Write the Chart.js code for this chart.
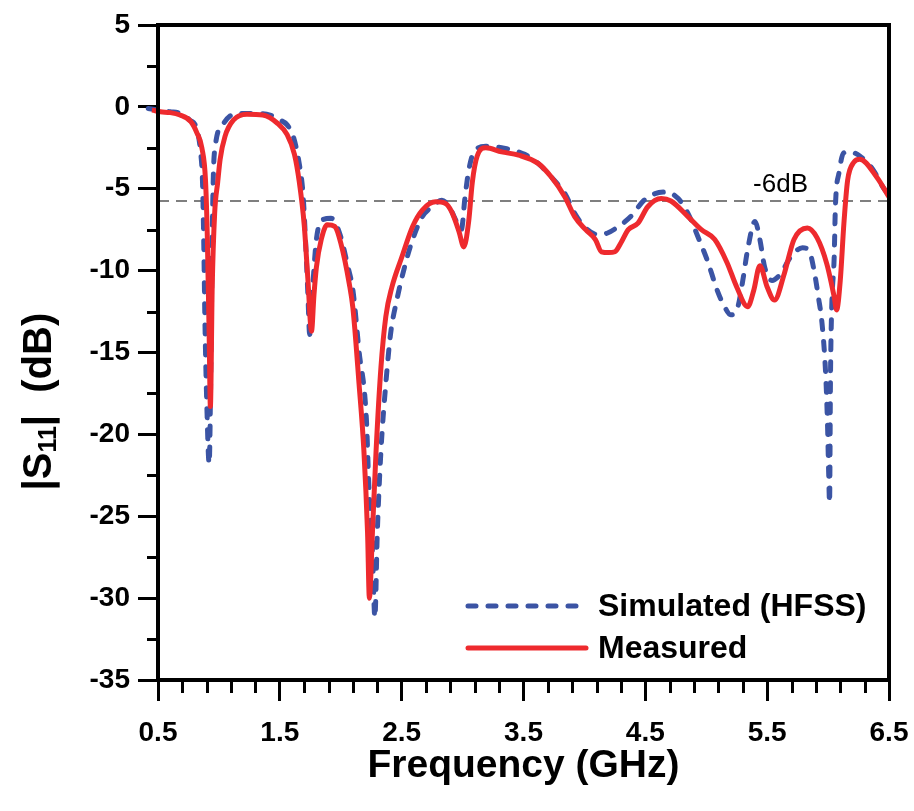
<!DOCTYPE html>
<html>
<head>
<meta charset="utf-8">
<script src="https://cdn.jsdelivr.net/npm/chart.js@4.4.0/dist/chart.umd.min.js"></script>
<style>
	html, body { margin: 0; padding: 0; background: #ffffff; }
	#wrap { width: 914px; height: 811px; }
</style>
</head>
<body>
<div id="wrap"><canvas id="canvass11" width="914" height="811"></canvas></div>
<script>

// simulated (HFSS), GHz / dB
var simFreq = [0.42, 0.50, 0.60, 0.68, 0.76, 0.82, 0.85, 0.865, 0.875, 0.885, 0.90, 0.92, 0.935, 0.945, 0.955, 0.97,
	1.04, 1.15, 1.31, 1.42, 1.50, 1.56, 1.61, 1.66, 1.69, 1.71, 1.73, 1.745, 1.77, 1.80, 1.85, 1.92, 1.99,
	2.06, 2.10, 2.15, 2.21, 2.23, 2.26, 2.28, 2.30, 2.33, 2.37, 2.41, 2.46, 2.53, 2.59, 2.67, 2.75, 2.83, 2.89, 2.95, 2.99,
	3.02, 3.05, 3.09, 3.19, 3.32, 3.51, 3.62, 3.73, 3.84, 3.92, 4.01, 4.11, 4.19, 4.28, 4.38, 4.49, 4.58, 4.67, 4.77, 4.85, 4.93,
	5.01, 5.09, 5.15, 5.20, 5.26, 5.30, 5.34, 5.40, 5.44, 5.48, 5.54, 5.61, 5.69, 5.79, 5.85, 5.89, 5.92, 5.95, 5.98, 5.995,
	6.005, 6.012, 6.02, 6.03, 6.05, 6.06, 6.09, 6.13, 6.18, 6.26, 6.37, 6.45, 6.50];
var simS11 = [-0.1, -0.2, -0.3, -0.4, -0.8, -1.4, -2.8, -4.5, -8.0, -13.0, -18.0, -21.8, -15.0, -8.0, -4.0, -2.4,
	-1.0, -0.4, -0.4, -0.5, -0.8, -1.1, -1.8, -3.5, -5.3, -8.0, -11.4, -13.9, -11.0, -8.1, -6.9, -6.8, -7.7,
	-9.8, -11.2, -14.9, -19.0, -23.0, -27.1, -31.2, -26.0, -21.0, -16.9, -13.8, -11.8, -9.6, -8.1, -6.7, -6.1, -5.7, -6.1, -7.0, -7.5,
	-5.5, -3.9, -2.8, -2.4, -2.5, -2.9, -3.45, -4.3, -5.3, -6.5, -7.4, -7.8, -7.7, -7.3, -6.7, -5.7, -5.3, -5.2, -5.6, -6.5, -7.9,
	-9.4, -11.2, -12.2, -12.7, -12.2, -10.6, -8.7, -7.0, -8.1, -9.8, -10.6, -10.2, -9.2, -8.6, -8.9, -10.2, -11.6, -13.2, -16.3, -19.3,
	-22.4, -24.2, -16.3, -12.2, -9.2, -6.1, -4.0, -2.8, -2.75, -3.0, -3.85, -4.9, -5.4];

// measured, GHz / dB
var measFreq = [0.38, 0.45, 0.52, 0.60, 0.68, 0.77, 0.82, 0.86, 0.89, 0.905, 0.92, 0.93, 0.945, 0.965, 0.99,
	1.01, 1.05, 1.12, 1.23, 1.36, 1.48, 1.56, 1.62, 1.66, 1.70, 1.73, 1.76, 1.78, 1.80, 1.84, 1.89, 1.95,
	2.00, 2.07, 2.10, 2.15, 2.19, 2.22, 2.235, 2.26, 2.29, 2.33, 2.37, 2.42, 2.50, 2.59, 2.67, 2.78, 2.86, 2.91, 2.97,
	3.01, 3.05, 3.08, 3.12, 3.19, 3.32, 3.46, 3.62, 3.73, 3.84, 3.92, 4.01, 4.09, 4.14, 4.20, 4.25, 4.30, 4.36, 4.44, 4.52, 4.63, 4.71, 4.85, 4.96,
	5.07, 5.17, 5.25, 5.34, 5.39, 5.44, 5.50, 5.56, 5.64, 5.72, 5.83, 5.91, 5.99,
	6.05, 6.07, 6.10, 6.13, 6.16, 6.21, 6.26, 6.40, 6.50];
var measS11 = [-0.15, -0.2, -0.3, -0.35, -0.5, -0.9, -1.6, -2.5, -4.5, -8.0, -14.0, -18.3, -11.0, -6.5, -4.6,
	-3.2, -1.8, -0.8, -0.45, -0.5, -1.0, -1.7, -2.9, -4.6, -7.2, -10.5, -13.7, -11.5, -9.8, -8.1, -7.2, -7.3,
	-8.3, -10.8, -12.3, -16.9, -21.0, -26.0, -30.0, -26.0, -21.0, -15.9, -12.8, -11.0, -9.2, -7.3, -6.3, -5.8, -5.9, -6.4, -7.6,
	-8.55, -7.0, -4.6, -3.0, -2.5, -2.75, -2.95, -3.45, -4.3, -5.5, -6.7, -7.5, -8.1, -8.85, -8.9, -8.85, -8.3, -7.5, -7.1, -6.1, -5.6, -5.75, -6.7, -7.5,
	-8.1, -9.5, -11.0, -12.2, -11.2, -9.7, -11.0, -11.8, -10.2, -8.1, -7.4, -8.0, -9.6,
	-11.6, -12.4, -10.6, -7.1, -4.5, -3.4, -3.2, -4.3, -5.5];

var seriesLabels = ["Simulated (HFSS)", "Measured"];
var seriesColors = ["#3b54a4", "#ee2a2e"];
var xTicks = [0.5, 1.5, 2.5, 3.5, 4.5, 5.5, 6.5];
var yTicks = [5, 0, -5, -10, -15, -20, -25, -30, -35];
var refLevel = -5.75;
var refText = "-6dB";

var fontFam = "'Liberation Sans', Arial, Helvetica, sans-serif";

function toPoints(xs, ys){
	var pts = [];
	for (var i = 0; i < xs.length; i++){ pts.push({ x: xs[i], y: ys[i] }); }
	return pts;
}

// y title with a real subscript: |S11|  (dB)
function draw_ytitle(ctx, cx, cy){
	var big = 'bold 40px ' + fontFam, small = 'bold 25px ' + fontFam;
	var parts = [
		{ t: '|', f: big, dy: 0 },
		{ t: 'S', f: big, dy: 0 },
		{ t: '11', f: small, dy: 9 },
		{ t: '|', f: big, dy: 0 },
		{ t: '  (dB)', f: big, dy: 0 }
	];
	var total = 0;
	for (var i = 0; i < parts.length; i++){
		ctx.font = parts[i].f;
		parts[i].w = ctx.measureText(parts[i].t).width;
		total += parts[i].w;
	}
	ctx.save();
	ctx.translate(cx, cy);
	ctx.rotate(-Math.PI / 2);
	ctx.fillStyle = '#000';
	ctx.textAlign = 'left';
	ctx.textBaseline = 'middle';
	var x = -total / 2;
	for (var j = 0; j < parts.length; j++){
		ctx.font = parts[j].f;
		ctx.fillText(parts[j].t, x, parts[j].dy);
		x += parts[j].w;
	}
	ctx.restore();
}

// frame, minor ticks, -6dB label, y title and legend
var s11_extras = {
	id: 's11_extras',
	afterDatasetsDraw: function(chart){
		var ctx = chart.ctx;
		var a = chart.chartArea;
		var xs = chart.scales.x, ys = chart.scales.y;
		ctx.save();

		ctx.fillStyle = '#000';
		ctx.font = '26px ' + fontFam;
		ctx.textAlign = 'center';
		ctx.textBaseline = 'bottom';
		ctx.fillText(refText, xs.getPixelForValue(5.61), ys.getPixelForValue(refLevel) - 3);

		ctx.strokeStyle = '#000';
		ctx.lineWidth = 4;
		ctx.strokeRect(a.left, a.top, a.right - a.left, a.bottom - a.top);

		ctx.lineWidth = 3;
		ctx.beginPath();
		for (var i = 1; i < 30; i++){
			if (i % 5 === 0) continue;
			var px = Math.round(xs.getPixelForValue(0.5 + i * 0.2)) + 0.5;
			ctx.moveTo(px, a.bottom);
			ctx.lineTo(px, a.bottom + 13);
		}
		for (var j = 1; j < 16; j++){
			if (j % 2 === 0) continue;
			var py = Math.round(ys.getPixelForValue(-35 + j * 2.5)) + 0.5;
			ctx.moveTo(a.left, py);
			ctx.lineTo(a.left - 11, py);
		}
		ctx.stroke();

		draw_ytitle(ctx, 40, ys.getPixelForValue(-18));

		var lx = a.right - 421, tx = a.right - 291;
		var rows = [a.bottom - 74, a.bottom - 32];
		ctx.lineWidth = 5;
		ctx.lineCap = 'round';
		for (var k = 0; k < 2; k++){
			ctx.strokeStyle = seriesColors[k];
			ctx.setLineDash(k === 0 ? [8, 12] : []);
			ctx.beginPath();
			ctx.moveTo(lx, rows[k]);
			ctx.lineTo(lx + 118, rows[k]);
			ctx.stroke();
		}
		ctx.setLineDash([]);
		ctx.fillStyle = '#000';
		ctx.font = 'bold 32px ' + fontFam;
		ctx.textAlign = 'left';
		ctx.textBaseline = 'middle';
		for (var m = 0; m < 2; m++){ ctx.fillText(seriesLabels[m], tx, rows[m] + 1); }
		ctx.restore();
	}
};

function init_chart_s11(){

	if( typeof (Chart) === 'undefined'){ return; }

	var chart_settings = {
		type: 'line',
		data: {
			datasets: [{
				label: seriesLabels[1],
				data: toPoints(measFreq, measS11),
				borderColor: seriesColors[1],
				borderWidth: 5,
				pointRadius: 0,
				cubicInterpolationMode: 'monotone',
				clip: false,
				order: 0
			}, {
				label: seriesLabels[0],
				data: toPoints(simFreq, simS11),
				borderColor: seriesColors[0],
				borderWidth: 5,
				borderDash: [9, 12],
				borderCapStyle: 'round',
				pointRadius: 0,
				cubicInterpolationMode: 'monotone',
				clip: false,
				order: 1
			}, {
				label: refText,
				data: toPoints([xTicks[0], xTicks[xTicks.length - 1]], [refLevel, refLevel]),
				borderColor: '#555555',
				borderWidth: 1.5,
				borderDash: [11, 7],
				pointRadius: 0,
				order: 2
			}]
		},
		options: {
			responsive: false,
			animation: false,
			devicePixelRatio: 1,
			layout: { padding: { left: 0, right: 25, top: 25, bottom: 0 } },
			plugins: { legend: { display: false }, tooltip: { enabled: false } },
			scales: {
				x: {
					type: 'linear',
					min: 0.5,
					max: 6.5,
					afterBuildTicks: function(scale){ scale.ticks = xTicks.map(function(v){ return { value: v }; }); },
					afterFit: function(scale){ scale.height = 131; scale.paddingLeft = 0; scale.paddingRight = 0; },
					border: { display: false },
					grid: { drawOnChartArea: false, drawTicks: true, tickLength: 21, tickWidth: 3, tickColor: '#000' },
					ticks: {
						color: '#000',
						padding: 15,
						maxRotation: 0,
						font: { family: fontFam, size: 28, weight: 'bold' },
						callback: function(v){ return Number(v).toFixed(1); }
					},
					title: {
						display: true,
						text: 'Frequency (GHz)',
						color: '#000',
						padding: { top: 0, bottom: 21 },
						font: { family: fontFam, size: 39, weight: 'bold' }
					}
				},
				y: {
					type: 'linear',
					min: -35,
					max: 5,
					afterBuildTicks: function(scale){ scale.ticks = yTicks.map(function(v){ return { value: v }; }); },
					afterFit: function(scale){ scale.width = 158; },
					border: { display: false },
					grid: { drawOnChartArea: false, drawTicks: true, tickLength: 20, tickWidth: 3, tickColor: '#000' },
					ticks: {
						color: '#000',
						padding: 8,
						font: { family: fontFam, size: 28, weight: 'bold' }
					},
					title: { display: false }
				}
			}
		},
		plugins: [s11_extras]
	};

	var chart_s11 = new Chart(document.getElementById('canvass11'), chart_settings);
}

init_chart_s11();

</script>
</body>
</html>
